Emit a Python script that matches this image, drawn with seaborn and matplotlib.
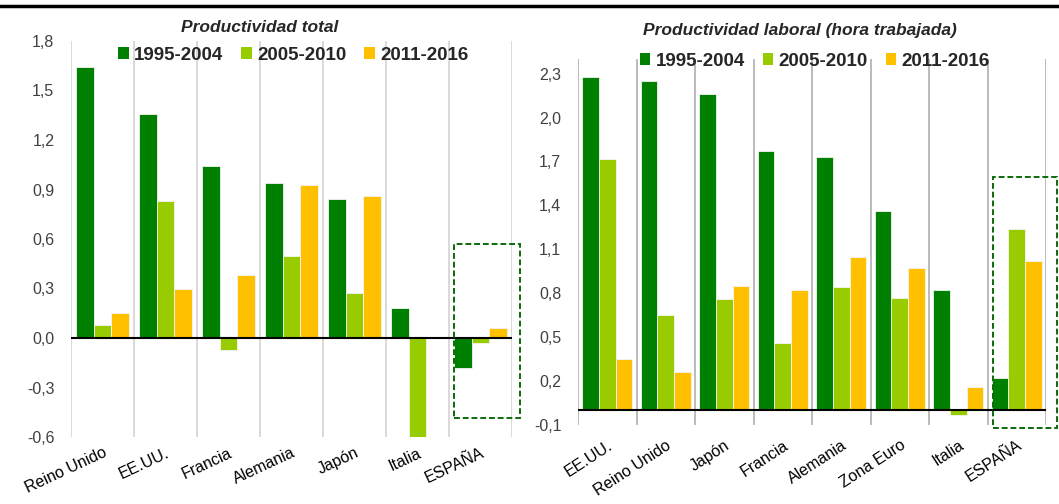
import numpy as np
import pandas as pd
import matplotlib
matplotlib.use("Agg")
import matplotlib.pyplot as plt
from matplotlib.patches import Patch, Rectangle
from matplotlib.lines import Line2D
import seaborn as sns

sns.set_theme(style="white")
plt.rcParams["font.family"] = ["Liberation Sans", "DejaVu Sans"]

# ---- data -------------------------------------------------------------
periodos = ["1995-2004", "2005-2010", "2011-2016"]
colores = ["#008000", "#99CC00", "#FFC000"]

# Productividad total
paises_total = ["Reino Unido", "EE.UU.", "Francia", "Alemania", "Japón", "Italia", "ESPAÑA"]
total_1995_2004 = [1.64, 1.36, 1.04, 0.94, 0.84, 0.18, -0.18]
total_2005_2010 = [0.08, 0.83, -0.07, 0.50, 0.27, -0.60, -0.03]
total_2011_2016 = [0.15, 0.30, 0.38, 0.93, 0.86, np.nan, 0.06]
ticks_total = [-0.6, -0.3, 0.0, 0.3, 0.6, 0.9, 1.2, 1.5, 1.8]
etiquetas_total = ["-0,6", "-0,3", "0,0", "0,3", "0,6", "0,9", "1,2", "1,5", "1,8"]

# Productividad laboral (hora trabajada)
paises_laboral = ["EE.UU.", "Reino Unido", "Japón", "Francia", "Alemania",
                  "Zona Euro", "Italia", "ESPAÑA"]
laboral_1995_2004 = [2.28, 2.25, 2.16, 1.77, 1.73, 1.36, 0.82, 0.22]
laboral_2005_2010 = [1.72, 0.65, 0.76, 0.46, 0.84, 0.77, -0.03, 1.24]
laboral_2011_2016 = [0.35, 0.26, 0.85, 0.82, 1.05, 0.97, 0.16, 1.02]
ticks_laboral = [-0.1, 0.2, 0.5, 0.8, 1.1, 1.4, 1.7, 2.0, 2.3]
etiquetas_laboral = ["-0,1", "0,2", "0,5", "0,8", "1,1", "1,4", "1,7", "2,0", "2,3"]


def tabla(paises, *series):
    filas = []
    for periodo, valores in zip(periodos, series):
        for pais, v in zip(paises, valores):
            filas.append({"pais": pais, "periodo": periodo, "valor": v})
    return pd.DataFrame(filas)


df_total = tabla(paises_total, total_1995_2004, total_2005_2010, total_2011_2016)
df_laboral = tabla(paises_laboral, laboral_1995_2004, laboral_2005_2010, laboral_2011_2016)

W, H = 1059, 504
fig = plt.figure(figsize=(W / 100, H / 100), dpi=100)

ax1 = fig.add_axes([71 / W, 67 / H, 441 / W, 396 / H])
ax2 = fig.add_axes([578 / W, 79 / H, 468 / W, 366 / H])


def panel(ax, df, paises, ylim, ticks, etiquetas, grid_color, rot, pad, box):
    sns.barplot(data=df, x="pais", y="valor", hue="periodo", order=paises,
                hue_order=periodos, palette=colores, width=0.85, ax=ax,
                edgecolor="#f4f4f4", linewidth=0.6, errorbar=None, legend=False,
                saturation=1)
    n = len(paises)
    ax.set_xlim(-0.5, n - 0.5)
    ax.set_ylim(*ylim)
    for i in range(n + 1):
        ax.axvline(i - 0.5, color=grid_color, lw=1.1, zorder=0)
    ax.axhline(0, color="black", lw=1.5, zorder=3)
    for s in ax.spines.values():
        s.set_visible(False)
    ax.set_yticks(ticks)
    ax.set_yticklabels(etiquetas, fontsize=11.5, color="#404040")
    ax.tick_params(axis="y", length=0, pad=12)
    ax.tick_params(axis="x", length=0, pad=pad)
    ax.set_xticks(range(n))
    ax.set_xticklabels(paises, rotation=rot, ha="right", va="top",
                       rotation_mode="anchor", fontsize=11.5, color="black")
    ax.set_xlabel("")
    ax.set_ylabel("")
    ax.grid(False)
    # dashed frame around Spain
    i = paises.index("ESPAÑA")
    x0, x1, y0, y1 = box
    ax.add_patch(Rectangle((i + x0, y0), x1 - x0, y1 - y0, fill=False,
                           edgecolor="#0B6B0B", lw=1.4, linestyle=(0, (3, 1.5)),
                           clip_on=False, zorder=4))


panel(ax1, df_total, paises_total, (-0.6, 1.8), ticks_total, etiquetas_total,
      "#d0d0d0", 25, 6, (-0.42, 0.63, -0.487, 0.57))
panel(ax2, df_laboral, paises_laboral, (-0.1, 2.4), ticks_laboral, etiquetas_laboral,
      "#a8a8a8", 33, 9, (-0.40, 0.68, -0.118, 1.597))

handles = [Patch(facecolor=c, edgecolor="none", label=p) for c, p in zip(colores, periodos)]
for cx, cy in [(293.5, 55), (815, 61)]:
    fig.legend(handles=handles, loc="center", bbox_to_anchor=(cx / W, 1 - cy / H),
               ncol=3, frameon=False, handlelength=0.55, handleheight=0.55,
               handletextpad=0.3, columnspacing=0.95, borderpad=0,
               prop={"weight": "bold", "size": 13.5})

fig.text(260 / W, 1 - 27 / H, "Productividad total", ha="center", va="center",
         fontsize=12.5, fontweight="bold", fontstyle="italic")
fig.text(800 / W, 1 - 31 / H, "Productividad laboral (hora trabajada)", ha="center",
         va="center", fontsize=12.5, fontweight="bold", fontstyle="italic")

fig.add_artist(Line2D([0, 1], [1 - 6 / H, 1 - 6 / H], color="black", lw=2.5,
                      transform=fig.transFigure))

fig.savefig("out.png", dpi=100)
